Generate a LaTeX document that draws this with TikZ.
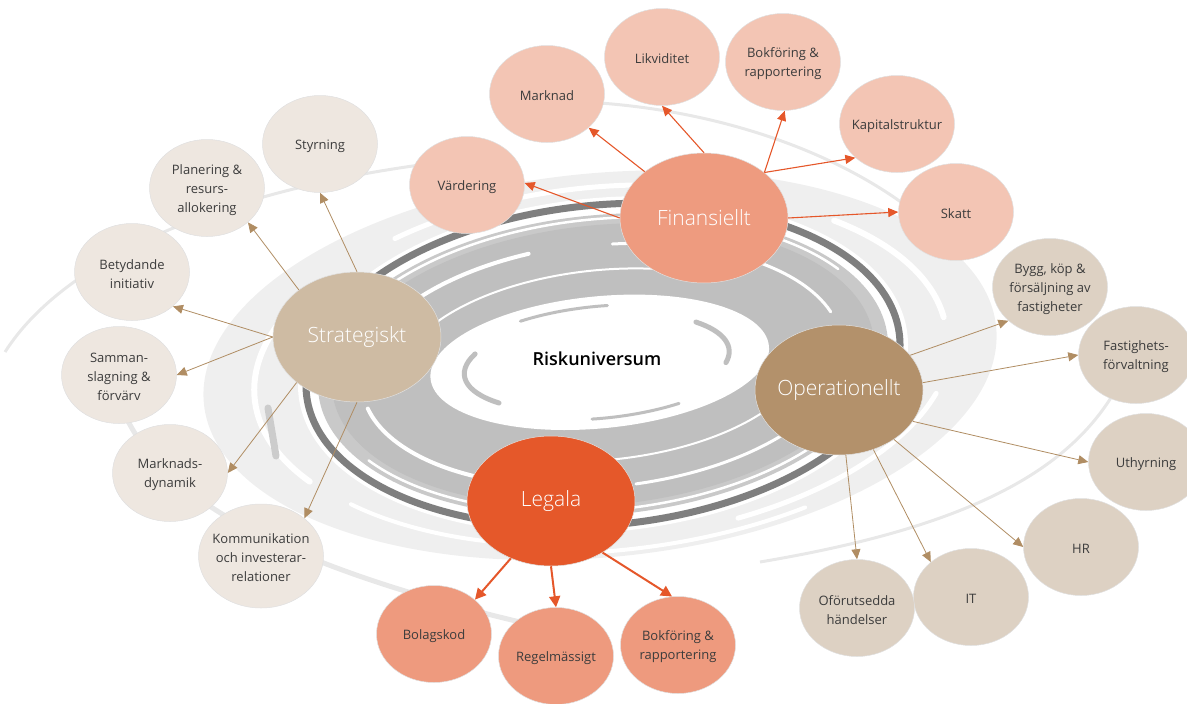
\documentclass[tikz,border=0pt]{standalone}
\usepackage{fontspec}
\setmainfont{Open Sans}
\newfontfamily\lightfont{Open Sans Light}
\newfontfamily\semifont{Open Sans Semibold}
\usetikzlibrary{shapes.geometric,arrows.meta}

\definecolor{cfin}{HTML}{EE9B7F}
\definecolor{cfinsub}{HTML}{F3C5B4}
\definecolor{cleg}{HTML}{E5582A}
\definecolor{clegsub}{HTML}{EE9A7E}
\definecolor{cstrat}{HTML}{CEBBA3}
\definecolor{cstratsub}{HTML}{EEE7E0}
\definecolor{cop}{HTML}{B3916B}
\definecolor{copsub}{HTML}{DDD1C3}
\definecolor{corange}{HTML}{E5572A}
\definecolor{cbrown}{HTML}{B08D63}
\definecolor{ctxt}{HTML}{3C3C3C}
\definecolor{cbg}{HTML}{EFEFEF}
\definecolor{cbgline}{HTML}{E8E8E8}
\definecolor{cring}{HTML}{7F7F7F}
\definecolor{cgray}{HTML}{BFBFBF}

\begin{document}
\begin{tikzpicture}[x=1pt,y=-1pt,
  bubble/.style={ellipse, inner sep=0pt, draw=black!12, line width=0.5pt,
                 minimum width=115pt, minimum height=97pt},
  stext/.style={align=center, text=ctxt, yshift=-2pt, font=\fontsize{13}{19}\selectfont},
  mtext/.style={text=white, font=\lightfont\fontsize{21}{24}\selectfont},
  mainbubble/.style={ellipse, inner sep=0pt, draw=black!12, line width=0.5pt,
                 minimum width=168pt, minimum height=130pt},
  farr/.style={draw=corange, line width=1.1pt, -{Triangle[length=10pt,width=9pt]}},
  larr/.style={draw=corange, line width=2pt, -{Triangle[length=11pt,width=11pt]}},
  barr/.style={draw=cbrown, line width=0.8pt, -{Triangle[length=10pt,width=9pt]}},
  swirl/.style={white, line cap=round},
]
\useasboundingbox (0,0) rectangle (1187,704);

% ---------- background swirl ----------
\draw[cbgline, line width=3] (5,352) .. controls (70,250) and (250,180) .. (480,158);
\draw[cbgline, line width=3] (600,103) .. controls (720,112) and (830,150) .. (905,205);
\draw[cbgline, line width=5] (125,415) .. controls (160,490) and (260,560) .. (520,622);
\draw[cbgline, line width=3] (1112,396) .. controls (1060,480) and (950,530) .. (760,562);

\begin{scope}[rotate around={5.5:(603,365)}]
  \fill[cbg] (600,365) ellipse [x radius=398, y radius=192];
  % white streaks through the outer light band
  \draw[swirl, line width=6] (603,365) ++(150:350 and 176) arc[start angle=150, end angle=212, x radius=350, y radius=176];
  \draw[swirl, line width=5] (603,365) ++(235:340 and 178) arc[start angle=235, end angle=285, x radius=340, y radius=178];
  \draw[swirl, line width=6] (603,365) ++(315:345 and 172) arc[start angle=315, end angle=355, x radius=345, y radius=172];
  \draw[swirl, line width=5] (603,365) ++(20:350 and 176) arc[start angle=20, end angle=70, x radius=350, y radius=176];
  \draw[swirl, line width=4] (603,365) ++(100:345 and 178) arc[start angle=100, end angle=140, x radius=345, y radius=178];
  \draw[swirl, line width=4] (603,365) ++(60:375 and 186) arc[start angle=60, end angle=95, x radius=375, y radius=186];
  % gap and dark ring
  \fill[white] (603,365) ellipse [x radius=306, y radius=167];
  \draw[cring, line width=7] (603,365) ellipse [x radius=298, y radius=160];
  % grey vortex band
  \fill[cgray!85] (603,365) ellipse [x radius=286, y radius=150];
  \fill[cgray] (603,365) ellipse [x radius=272, y radius=140];
  \draw[swirl, line width=2.5] (603,365) ++(185:281 and 146) arc[start angle=185, end angle=330, x radius=281, y radius=146];
  \draw[swirl, line width=2.5] (603,365) ++(10:280 and 145) arc[start angle=10, end angle=150, x radius=280, y radius=145];
  \draw[swirl, line width=4] (603,365) ++(195:245 and 122) arc[start angle=195, end angle=255, x radius=245, y radius=122];
  \draw[swirl, line width=3] (603,365) ++(275:240 and 120) arc[start angle=275, end angle=345, x radius=240, y radius=120];
  \draw[swirl, line width=3] (603,365) ++(15:245 and 122) arc[start angle=15, end angle=85, x radius=245, y radius=122];
  \draw[swirl, line width=4] (603,365) ++(110:242 and 120) arc[start angle=110, end angle=170, x radius=242, y radius=120];
  \draw[swirl, line width=2] (603,365) ++(200:205 and 95) arc[start angle=200, end angle=300, x radius=205, y radius=95];
  \draw[swirl, line width=2] (603,365) ++(20:205 and 95) arc[start angle=20, end angle=120, x radius=205, y radius=95];
  % white centre with small grey hooks
  \fill[white] (600,362) ellipse [x radius=170, y radius=66];
  \draw[cgray, line width=5, line cap=round] (600,362) ++(140:136 and 48) arc[start angle=140, end angle=205, x radius=136, y radius=48];
  \draw[cgray, line width=5, line cap=round] (600,362) ++(-40:130 and 48) arc[start angle=-40, end angle=15, x radius=130, y radius=48];
  \draw[cgray, line width=3, line cap=round] (600,362) ++(240:150 and 56) arc[start angle=240, end angle=275, x radius=150, y radius=56];
  \draw[cgray, line width=3, line cap=round] (600,362) ++(60:150 and 56) arc[start angle=60, end angle=95, x radius=150, y radius=56];
\end{scope}
\draw[black!20, line width=7, line cap=round] (268,408) -- (276,456);

\node[text=black, font=\semifont\fontsize{18}{22}\selectfont] (risk) at (597,359) {Riskuniversum};

% ---------- main categories ----------
\node[mainbubble, fill=cfin,   label={[mtext]center:Finansiellt}]   (fin)   at (704,218) {};
\node[mainbubble, fill=cstrat, label={[mtext]center:Strategiskt}]   (strat) at (357,337) {};
\node[mainbubble, fill=cop,    label={[mtext]center:Operationellt}] (op)    at (839,390) {};
\node[mainbubble, fill=cleg,   label={[mtext]center:Legala}]        (leg)   at (551,501) {};

% ---------- financial risks ----------
\node[bubble, fill=cfinsub, label={[stext]center:Värdering}] (vard) at (467,185) {};
\node[bubble, fill=cfinsub, label={[stext]center:Marknad}] (mark) at (547,94) {};
\node[bubble, fill=cfinsub, label={[stext]center:Likviditet}] (likv) at (662,57) {};
\node[bubble, fill=cfinsub, label={[stext]center:Bokföring \&\\rapportering}] (bokf) at (783,62) {};
\node[bubble, fill=cfinsub, label={[stext]center:Kapitalstruktur}] (kap) at (897,124) {};
\node[bubble, fill=cfinsub, label={[stext]center:Skatt}] (skatt) at (956,212) {};

% ---------- operational risks ----------
\node[bubble, fill=copsub, label={[stext]center:Bygg, köp \&\\försäljning av\\fastigheter}] (bygg) at (1050,287) {};
\node[bubble, fill=copsub, label={[stext]center:Fastighets-\\förvaltning}] (fast) at (1136,355) {};
\node[bubble, fill=copsub, label={[stext]center:Uthyrning}] (uthyr) at (1146,462) {};
\node[bubble, fill=copsub, label={[stext]center:HR}] (hr) at (1081,547) {};
\node[bubble, fill=copsub, label={[stext]center:IT}] (it) at (971,597) {};
\node[bubble, fill=copsub, label={[stext]center:Oförutsedda\\händelser}] (ofor) at (857,608) {};

% ---------- strategic risks ----------
\node[bubble, fill=cstratsub, label={[stext]center:Styrning}] (styr) at (320,144) {};
\node[bubble, fill=cstratsub, label={[stext]center:Planering \&\\resurs-\\allokering}] (plan) at (207,188) {};
\node[bubble, fill=cstratsub, label={[stext]center:Betydande\\initiativ}] (bet) at (132,272) {};
\node[bubble, fill=cstratsub, label={[stext]center:Samman-\\slagning \&\\förvärv}] (samm) at (119,375) {};
\node[bubble, fill=cstratsub, label={[stext]center:Marknads-\\dynamik}] (mdyn) at (170,473) {};
\node[bubble, fill=cstratsub, minimum width=125pt, minimum height=104pt,
      label={[stext]center:Kommunikation\\och investerar-\\relationer}] (komm) at (261,556) {};

% ---------- legal risks ----------
\node[bubble, fill=clegsub, label={[stext]center:Bolagskod}] (bolag) at (434,634) {};
\node[bubble, fill=clegsub, label={[stext]center:Regelmässigt}] (regel) at (556,656) {};
\node[bubble, fill=clegsub, label={[stext]center:Bokföring \&\\rapportering}] (bokl) at (678,645) {};

% ---------- connectors ----------
\draw[farr] (fin.180) -- (vard.2);
\draw[farr] (fin.142) -- (mark.-39);
\draw[farr] (fin.90) -- (likv.-90);
\draw[farr] (fin.37) -- (bokf.-88);
\draw[farr] (fin.37) -- (kap.219);
\draw[farr] (fin.0) -- (skatt.180);

\draw[barr] (strat.90) -- (styr.-90);
\draw[barr] (strat.141) -- (plan.-40);
\draw[barr] (strat.180) -- (bet.-40);
\draw[barr] (strat.180) -- (samm.0);
\draw[barr] (strat.217) -- (mdyn.0);
\draw[barr] (strat.-90) -- (komm.41);

\draw[barr] (op.26) -- (bygg.219);
\draw[barr] (op.5) -- (fast.180);
\draw[barr] (op.-23) -- (uthyr.180);
\draw[barr] (op.-42) -- (hr.180);
\draw[barr] (op.-60) -- (it.139);
\draw[barr] (op.-84) -- (ofor.90);

\draw[larr] (leg.235) -- (bolag.40);
\draw[larr] (leg.-90) -- (regel.90);
\draw[larr] (leg.-45) -- (bokl.97);
\end{tikzpicture}
\end{document}
